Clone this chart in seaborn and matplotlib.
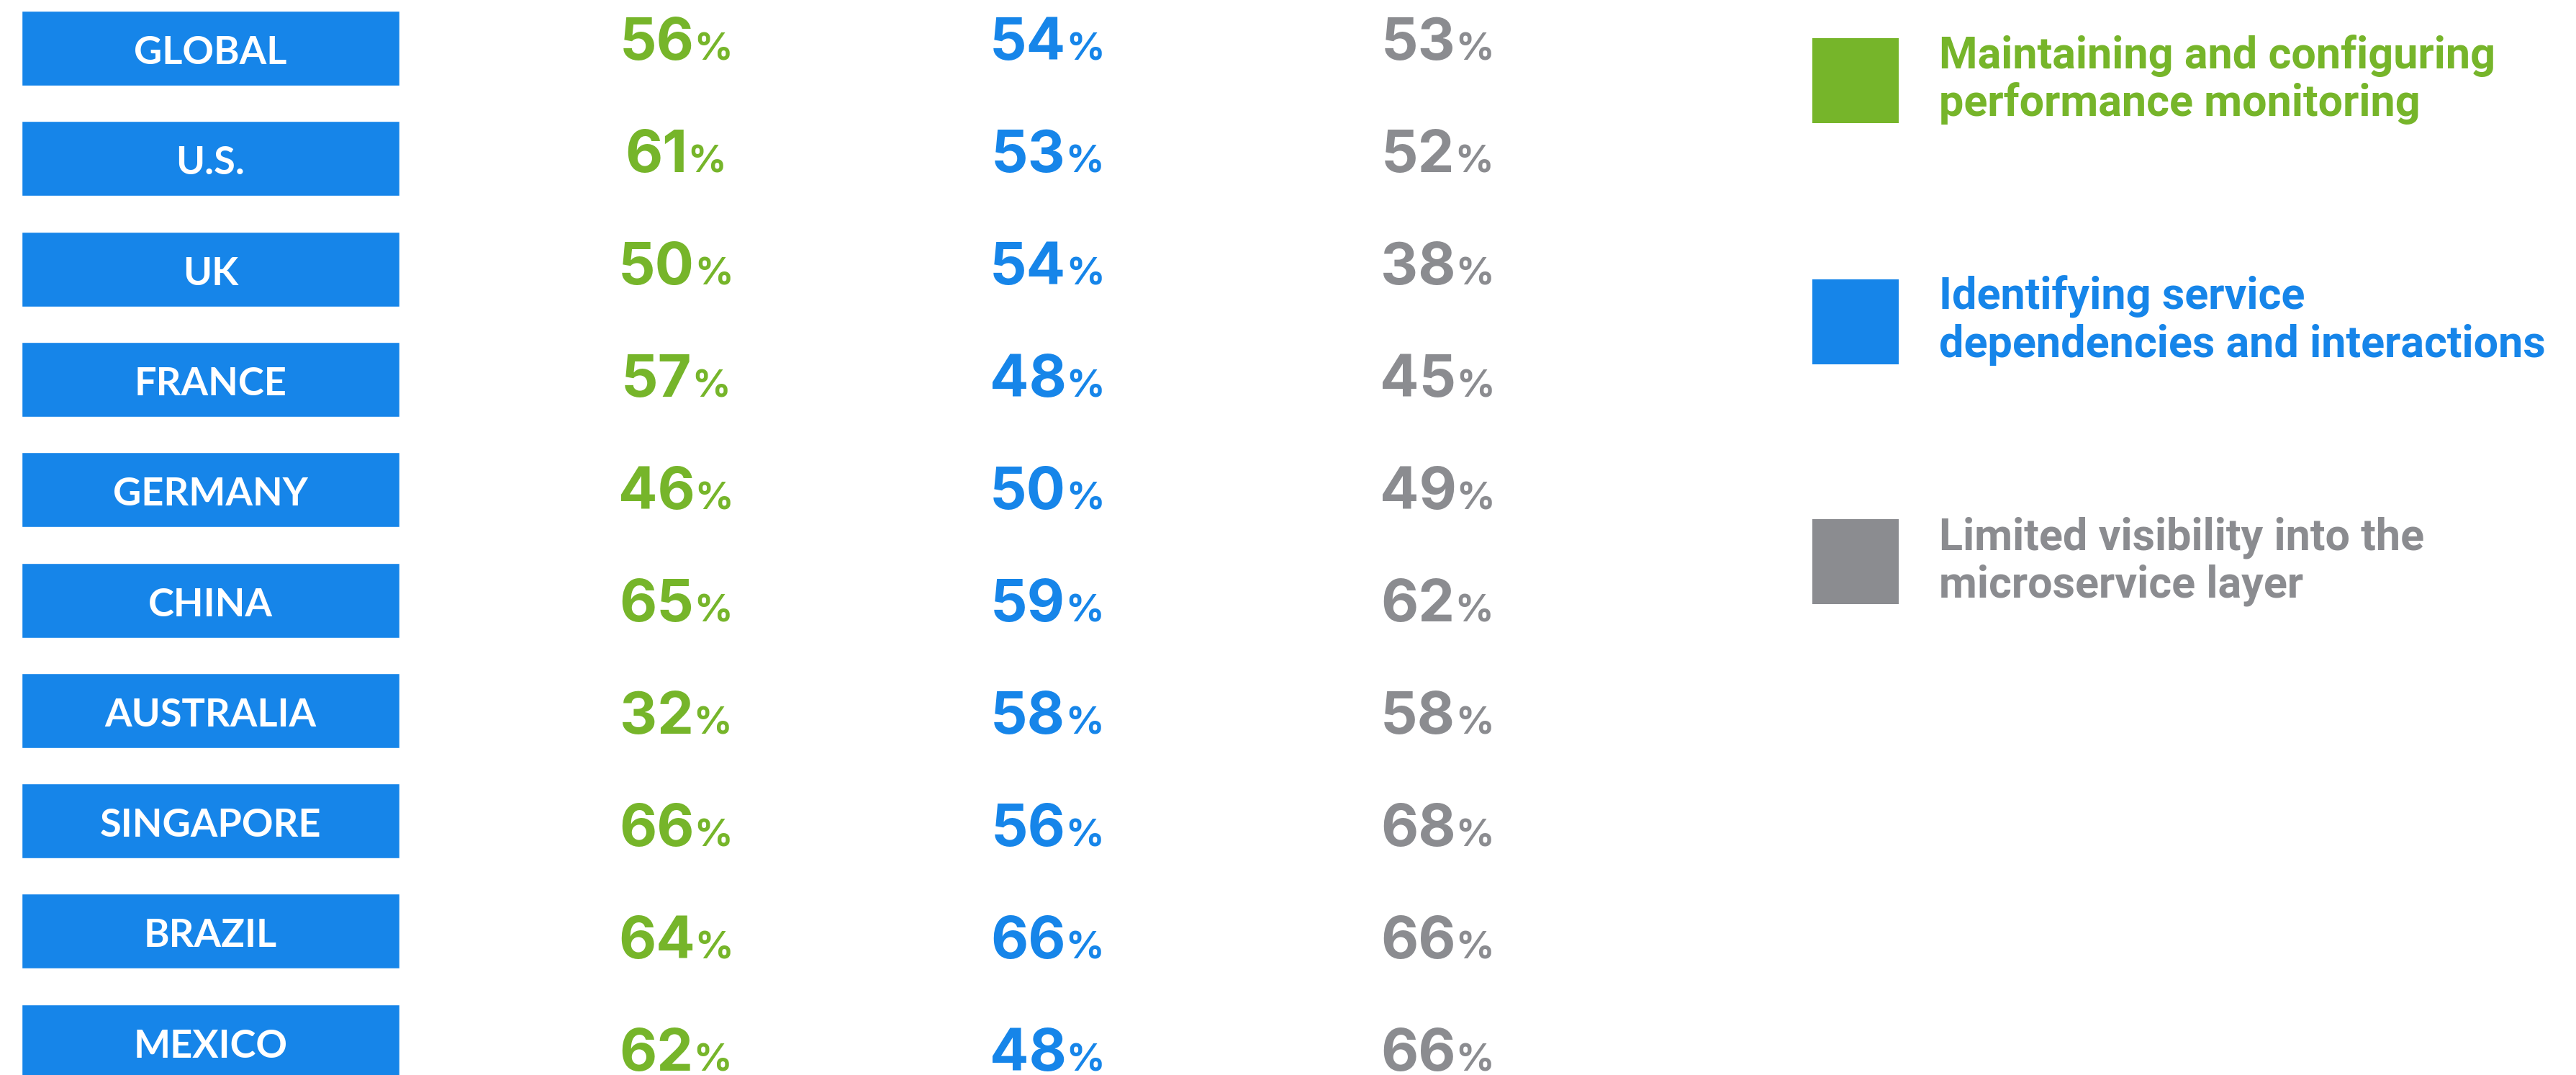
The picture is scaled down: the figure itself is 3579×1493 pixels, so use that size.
import pandas as pd
import seaborn as sns
import matplotlib.pyplot as plt
from matplotlib.patches import Rectangle

# chart values
countries = ["GLOBAL", "U.S.", "UK", "FRANCE", "GERMANY", "CHINA",
             "AUSTRALIA", "SINGAPORE", "BRAZIL", "MEXICO"]
maintaining = [56, 61, 50, 57, 46, 65, 32, 66, 64, 62]
identifying = [54, 53, 54, 48, 50, 59, 58, 56, 66, 48]
limited = [53, 52, 38, 45, 49, 62, 58, 68, 66, 66]
series_labels = ["Maintaining and configuring\nperformance monitoring",
                 "Identifying service\ndependencies and interactions",
                 "Limited visibility into the\nmicroservice layer"]

GREEN = "#76B52A"
BLUE = "#1685E9"
GRAY = "#8B8C90"
series_colors = [GREEN, BLUE, GRAY]

sns.set_style("white")
plt.rcParams["font.family"] = ["Lato", "DejaVu Sans"]

W, H = 3580, 1493
ROW0, ROW_STEP = 67, 153.3   # pixel centre of first box row, row spacing
BOX_LEFT, BOX_W, BOX_H = 30, 525, 104


def px(x):
    # figure pixel x -> data x
    return x - BOX_LEFT


def py(y):
    # figure pixel y (from top) -> data y (category units)
    return (y - ROW0) / ROW_STEP


fig = plt.figure(figsize=(W / 100, H / 100), dpi=100)
ax = fig.add_axes([0, 0, 1, 1])

df = pd.DataFrame({"country": countries})
df["box"] = BOX_W
sns.barplot(data=df, x="box", y="country", orient="h", color=BLUE,
            saturation=1, errorbar=None, width=BOX_H / ROW_STEP, ax=ax)

ax.set_xlim(px(0), px(W))
ax.set_ylim(py(H), py(0))
ax.axis("off")

# country names inside the boxes
for i, name in enumerate(countries):
    ax.text(BOX_W / 2, i + 22 / ROW_STEP, name, ha="center", va="baseline",
            color="white", fontsize=39, fontweight="bold")

# percentage columns
num_font = ["Inter", "Lato", "DejaVu Sans"]
col_centres = [939, 1455, 1997]
series = [maintaining, identifying, limited]
pairs = []
for vals, cx, col in zip(series, col_centres, series_colors):
    for i, v in enumerate(vals):
        base = py(83 + 156 * i)
        t1 = ax.text(0, base, str(v), ha="left", va="baseline", color=col,
                     fontsize=58, fontweight="bold", family=num_font)
        t2 = ax.text(0, base, "%", ha="left", va="baseline", color=col,
                     fontsize=38, fontweight="bold", family=num_font)
        pairs.append((t1, t2, cx))

fig.canvas.draw()
r = fig.canvas.get_renderer()
for t1, t2, cx in pairs:
    w1 = t1.get_window_extent(r).width
    w2 = t2.get_window_extent(r).width
    gap = 0
    left = cx - (w1 + gap + w2) / 2
    t1.set_x(px(left))
    t2.set_x(px(left + w1 + gap))

# legend
sq_tops = [53, 388, 721]
for top, label, col in zip(sq_tops, series_labels, series_colors):
    ax.add_patch(Rectangle((px(2518), py(top)), 120, 118 / ROW_STEP,
                           facecolor=col, edgecolor="none"))
    for k, line in enumerate(label.split("\n")):
        ax.text(px(2694), py(top + 42 + 66 * k), line, ha="left",
                va="baseline", color=col, fontsize=44, fontweight="bold",
                family=["Roboto", "Lato", "DejaVu Sans"])

fig.savefig("out.png", dpi=100, facecolor="white")
